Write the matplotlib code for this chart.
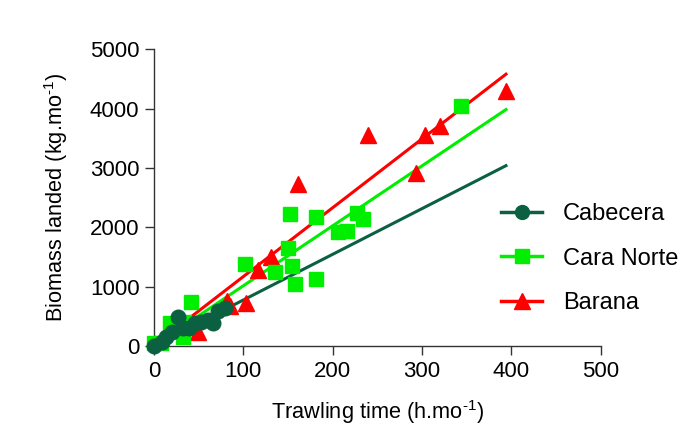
import matplotlib
matplotlib.use("Agg")
import numpy as np
import matplotlib.pyplot as plt

plt.rcParams['font.family'] = ['Liberation Sans', 'DejaVu Sans']
plt.rcParams['mathtext.fontset'] = 'custom'
plt.rcParams['mathtext.rm'] = 'Liberation Sans'
plt.rcParams['mathtext.it'] = 'Liberation Sans'

# Cabecera (circles)
cab_x = [0, 8.6, 14, 20, 27, 33, 39, 46, 53, 61, 66, 72, 79.5]
cab_y = [0, 73, 157, 241, 484, 298, 310, 383, 410, 438, 393, 595, 635]

# Cara Norte (squares)
cn_x = [0, 8, 18, 33, 34, 41, 102, 135, 150, 152, 155, 158, 181, 181.4, 206, 216, 227, 234, 343.5]
cn_y = [45, 45, 383, 157, 400, 747, 1378, 1243, 1647, 2221, 1355, 1040, 1130, 2180, 1928, 1940, 2248, 2142, 4047]

# Barana (triangles)
bar_x = [49.6, 82, 85, 103, 116, 131, 161.6, 240, 293, 303.5, 320, 394]
bar_y = [241, 760, 680, 720, 1282, 1496, 2732, 3558, 2923, 3558, 3710, 4305]

# fitted lines: (slope, intercept)
fit_cab = (7.7, 5)
fit_cn = (10.1, 5)
fit_bar = (11.6, 10)
fit_xmax = 394

col_cab = '#0a6040'
col_cn = '#00ee00'
col_bar = '#ff0000'

fig = plt.figure(figsize=(6.89, 4.46), dpi=100)
ax = fig.add_axes([0.2235, 0.2242, 0.8718 - 0.2235, 0.8895 - 0.2242])

xf = np.array([0, fit_xmax])

# Barana
ax.plot(xf, fit_bar[0] * xf + fit_bar[1], color=col_bar, lw=2.2, zorder=2)
ax.plot(bar_x, bar_y, '^', color=col_bar, ms=11.5, mec=col_bar, zorder=3, clip_on=False)
# Cara Norte
ax.plot(xf, fit_cn[0] * xf + fit_cn[1], color=col_cn, lw=2.2, zorder=2)
ax.plot(cn_x, cn_y, 's', color=col_cn, ms=10.5, mec=col_cn, zorder=4, clip_on=False)
# Cabecera
ax.plot(xf, fit_cab[0] * xf + fit_cab[1], color=col_cab, lw=2.2, zorder=2)
ax.plot(cab_x, cab_y, 'o', color=col_cab, ms=10.5, mec=col_cab, zorder=5, clip_on=False)

# legend handles
h_cab, = ax.plot([], [], '-o', color=col_cab, lw=2.5, ms=10)
h_cn, = ax.plot([], [], '-s', color=col_cn, lw=2.5, ms=10)
h_bar, = ax.plot([], [], '-^', color=col_bar, lw=2.5, ms=11)
fig.legend([h_cab, h_cn, h_bar], ['Cabecera', 'Cara Norte', 'Barana'],
           loc='center left', bbox_to_anchor=(0.697, 0.42), frameon=False,
           fontsize=17, handlelength=1.7, handletextpad=0.9, labelspacing=0.95)

ax.set_xlim(0, 500)
ax.set_ylim(0, 5000)
ax.set_xticks([0, 100, 200, 300, 400, 500])
ax.set_yticks([0, 1000, 2000, 3000, 4000, 5000])
ax.tick_params(labelsize=16, length=6.5, width=1, color='#333333', pad=4)
for s in ['top', 'right']:
    ax.spines[s].set_visible(False)
for s in ['left', 'bottom']:
    ax.spines[s].set_color('#333333')
    ax.spines[s].set_linewidth(1)

ax.set_xlabel(r'Trawling time (h.mo$^{\text{-1}}$)', fontsize=15.7, labelpad=12)
ax.set_ylabel(r'Biomass landed (kg.mo$^{\text{-1}}$)', fontsize=15.7, labelpad=14)

fig.savefig('out.png', dpi=100, facecolor='white')
